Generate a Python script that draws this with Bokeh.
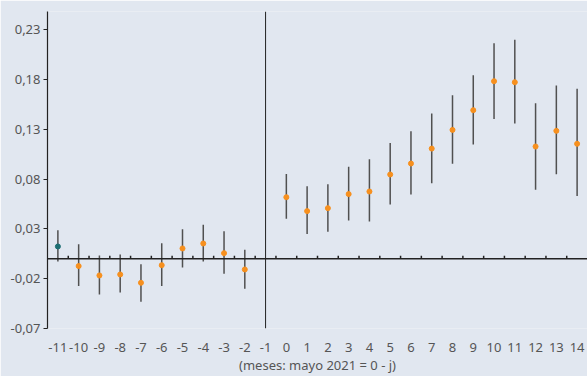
from bokeh.plotting import figure
from bokeh.models import Range1d, FixedTicker, Span, ColumnDataSource
from bokeh.embed import file_html
from bokeh.resources import INLINE

# ---- data ----
months = [-11, -10, -9, -8, -7, -6, -5, -4, -3, -2,
          0, 1, 2, 3, 4, 5, 6, 7, 8, 9, 10, 11, 12, 13, 14]
coef = [0.0124, -0.0073, -0.0167, -0.0157, -0.0241, -0.0064, 0.0104, 0.0154, 0.0057, -0.0107,
        0.0619, 0.0479, 0.0509, 0.0650, 0.0676, 0.0847, 0.0957, 0.1107, 0.1295, 0.1493,
        0.1784, 0.1774, 0.1128, 0.1285, 0.1155]
upper = [0.0288, 0.0147, 0.0033, 0.0043, -0.0054, 0.0157, 0.0298, 0.0341, 0.0278, 0.0090,
         0.0853, 0.0730, 0.0750, 0.0924, 0.1001, 0.1162, 0.1282, 0.1459, 0.1643, 0.1844,
         0.2166, 0.2199, 0.1563, 0.1740, 0.1707]
lower = [-0.0027, -0.0274, -0.0358, -0.0338, -0.0432, -0.0274, -0.0087, -0.0027, -0.0151, -0.0301,
         0.0402, 0.0248, 0.0271, 0.0385, 0.0375, 0.0545, 0.0646, 0.0760, 0.0954, 0.1148,
         0.1403, 0.1358, 0.0693, 0.0850, 0.0630]
ref_month = -1
x_ticks = list(range(-11, 15))
x_labels = {t: str(t) for t in x_ticks}
y_ticks = [-0.07, -0.02, 0.03, 0.08, 0.13, 0.18, 0.23]
y_labels = {t: f"{t:.2f}".replace(".", ",") for t in y_ticks}
x_title = "(meses: mayo 2021 = 0 - j)"

BG = "#e1e7f0"
FONT = "Noto Sans"
TXT = "#555555"

colors = ["#1c6e72" if m == months[0] else "#f7901e" for m in months]
src = ColumnDataSource(dict(x=months, y=coef, lo=lower, hi=upper, c=colors))

p = figure(width=587, height=376, output_backend="svg", toolbar_location=None,
           x_range=Range1d(-11.5, 14.5), y_range=Range1d(-0.07, 0.2484),
           min_border_left=47, min_border_right=0, min_border_top=11, min_border_bottom=48)
p.background_fill_color = BG
p.border_fill_color = BG
p.outline_line_color = None
p.grid.visible = False

# axes
xa = p.xaxis[0]
xa.ticker = FixedTicker(ticks=x_ticks)
xa.major_label_overrides = x_labels
xa.axis_line_color = None
xa.major_tick_line_color = None
xa.minor_tick_line_color = None
xa.major_tick_out = 0
xa.major_tick_in = 0
xa.major_label_standoff = 14
xa.major_label_text_font = FONT
xa.major_label_text_font_size = "13px"
xa.major_label_text_color = TXT
xa.axis_label = x_title
xa.axis_label_text_font = FONT
xa.axis_label_text_font_size = "13px"
xa.axis_label_text_font_style = "normal"
xa.axis_label_text_color = TXT
xa.axis_label_text_line_height = 0.9
xa.axis_label_standoff = 1

ya = p.yaxis[0]
ya.ticker = FixedTicker(ticks=y_ticks)
ya.major_label_overrides = y_labels
ya.axis_line_color = "#222222"
ya.axis_line_width = 1.2
ya.major_tick_line_color = "#222222"
ya.major_tick_out = 4
ya.major_tick_in = 0
ya.minor_tick_line_color = None
ya.major_label_standoff = 3
ya.major_label_text_font = FONT
ya.major_label_text_font_size = "13px"
ya.major_label_text_color = TXT

# zero line and reference month line
p.add_layout(Span(location=0, dimension="width", line_color="#222222", line_width=1.5))
p.add_layout(Span(location=ref_month, dimension="height", line_color="#222222", line_width=1))

# small ticks on zero line at category boundaries
bounds = [t + 0.5 for t in x_ticks[:-1]]
p.segment(x0=bounds, y0=[0] * len(bounds), x1=bounds, y1=[0.003] * len(bounds),
          line_color="#222222", line_width=1.5)

# error bars
p.segment(x0="x", y0="lo", x1="x", y1="hi", source=src, line_color="#505050", line_width=1.5)
# points
p.scatter(x="x", y="y", source=src, size=5, marker="circle",
          fill_color="c", line_color="c")

html = file_html(p, INLINE)
html = html.replace("<body>", f'<body style="margin:0; background:{BG};">', 1)
open("out.html", "w").write(html)
